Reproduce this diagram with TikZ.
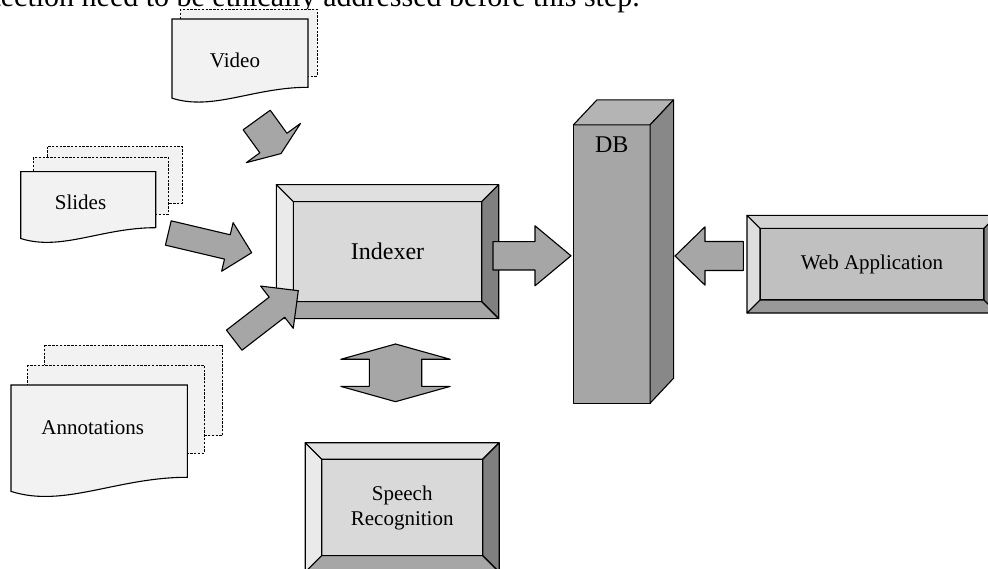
\documentclass[tikz,border=0pt]{standalone}
\usepackage{fontspec}
\setmainfont{Liberation Serif}
\usepackage{tikz}
\usetikzlibrary{calc}

\definecolor{paper}{HTML}{F2F2F2}
\definecolor{facegray}{HTML}{D9D9D9}
\definecolor{bevtop}{HTML}{E0E0E0}
\definecolor{bevleft}{HTML}{EAEAEA}
\definecolor{bevright}{HTML}{808080}
\definecolor{bevbottom}{HTML}{A6A6A6}
\definecolor{webface}{HTML}{C0C0C0}
\definecolor{webtop}{HTML}{D2D2D2}
\definecolor{webleft}{HTML}{DEDEDE}
\definecolor{webbottom}{HTML}{999999}
\definecolor{dbfront}{HTML}{A6A6A6}
\definecolor{dbtop}{HTML}{B4B4B4}
\definecolor{dbside}{HTML}{888888}
\definecolor{arrowgray}{HTML}{A6A6A6}

\newcommand{\labelfont}{\fontsize{21}{25}\selectfont}
\newcommand{\bigfont}{\fontsize{24}{28}\selectfont}

% page with a wavy lower edge: left, top, width, height at the right side
\newcommand{\wavypage}[4]{%
  \pgfmathsetmacro{\xr}{#1+#3}
  \pgfmathsetmacro{\yb}{#2-#4}
  \pgfmathsetmacro{\dz}{0.08*#3}
  \draw[page] (#1,#2) -- (\xr,#2) -- (\xr,\yb)
    .. controls (#1+0.6*#3,\yb) and (#1+0.3*#3,\yb-2.2*\dz) .. (#1,\yb-\dz) -- cycle;
}

% raised frame round a face node: node, bevel, top, left, right, bottom colour
\newcommand{\bevel}[6]{%
  \coordinate (#1-onw) at ($(#1.north west)+(-#2,#2)$);
  \coordinate (#1-one) at ($(#1.north east)+(#2,#2)$);
  \coordinate (#1-ose) at ($(#1.south east)+(#2,-#2)$);
  \coordinate (#1-osw) at ($(#1.south west)+(-#2,-#2)$);
  \draw[boxline, fill=#3] (#1.north west) -- (#1-onw) -- (#1-one) -- (#1.north east) -- cycle;
  \draw[boxline, fill=#4] (#1.north west) -- (#1-onw) -- (#1-osw) -- (#1.south west) -- cycle;
  \draw[boxline, fill=#5] (#1.north east) -- (#1-one) -- (#1-ose) -- (#1.south east) -- cycle;
  \draw[boxline, fill=#6] (#1.south west) -- (#1-osw) -- (#1-ose) -- (#1.south east) -- cycle;
}

% block arrow: tail, tip, half shaft, half head, head length
\newcommand{\fatarrow}[5]{%
  \coordinate (h) at ($(#2)!#5pt!(#1)$);
  \draw[fatbody] ($(#1)!#3pt!90:(#2)$) -- ($(h)!#3pt!90:(#2)$) -- ($(h)!#4pt!90:(#2)$)
    -- (#2) -- ($(h)!#4pt!-90:(#2)$) -- ($(h)!#3pt!-90:(#2)$) -- ($(#1)!#3pt!-90:(#2)$) -- cycle;
}

% block arrow with a head at both ends
\newcommand{\twinarrow}[5]{%
  \coordinate (ha) at ($(#1)!#5pt!(#2)$);
  \coordinate (hb) at ($(#2)!#5pt!(#1)$);
  \draw[fatbody] (#1) -- ($(ha)!#4pt!90:(#2)$) -- ($(ha)!#3pt!90:(#2)$)
    -- ($(hb)!#3pt!-90:(#1)$) -- ($(hb)!#4pt!-90:(#1)$) -- (#2)
    -- ($(hb)!#4pt!90:(#1)$) -- ($(hb)!#3pt!90:(#1)$)
    -- ($(ha)!#3pt!-90:(#2)$) -- ($(ha)!#4pt!-90:(#2)$) -- cycle;
}

\begin{document}
\begin{tikzpicture}[x=1pt,y=1pt,
boxline/.style={draw=black, line width=1.1pt, line join=round},
face/.style={boxline, rectangle, outer sep=0pt, inner sep=0pt, align=center, font=\labelfont},
page/.style={draw=black, line width=1.1pt, fill=paper},
backpage/.style={draw=black, line width=0.9pt, fill=paper, dash pattern=on 2.4pt off 1.4pt},
fatbody/.style={boxline, fill=arrowgray},
doctext/.style={font=\labelfont}]

\useasboundingbox (0,0) rectangle (988,569);
\clip (0,0) rectangle (988,569);

% line of running text above the figure
\node (caption) [anchor=base east, inner sep=0pt, font=\fontsize{30}{34}\selectfont] at (640,562.5)
  {tection need to be ethically addressed before this step.};

% source documents
\draw[backpage] (180,560) rectangle (317,493);
\wavypage{172}{550}{136}{68.3}
\node (video) [doctext] at (235,509) {Video};

\draw[backpage] (47.3,422.3) rectangle (182.3,365.7);
\draw[backpage] (33.3,411.7) rectangle (168.3,354.7);
\wavypage{20.7}{397.3}{135}{56}
\node (slides) [doctext] at (80.5,366.3) {Slides};

\draw[backpage] (44,224) rectangle (222.7,133.3);
\draw[backpage] (27.7,204) rectangle (204,115.7);
\wavypage{11}{184}{176.3}{92.3}
\node (annot) [doctext] at (92.8,141.7) {Annotations};

% processing blocks
\node (indexer) [face, fill=facegray, font=\bigfont, minimum width=188.4pt, minimum height=100pt] at (387.5,317.3) {Indexer};
\bevel{indexer}{17}{bevtop}{bevleft}{bevright}{bevbottom}

\node (speech) [face, fill=facegray, minimum width=161pt, minimum height=96.4pt] at (402.2,61.5) {Speech\\Recognition};
\bevel{speech}{16.5}{bevtop}{bevleft}{bevright}{bevbottom}

\node (webapp) [face, fill=webface, minimum width=224pt, minimum height=71.7pt] at (872,304.8) {Web Application};
\bevel{webapp}{13}{webtop}{webleft}{bevright}{webbottom}

% database column
\node (db) [boxline, fill=dbfront, outer sep=0pt, minimum width=76.7pt, minimum height=278.3pt,
  label={[font=\bigfont, inner sep=0pt, anchor=north, yshift=-11.7pt]north:DB}] at (611.7,304.9) {};
\draw[boxline, fill=dbtop] (db.north west) -- ++(23.5,25) -- ++(76.7,0) -- (db.north east) -- cycle;
\draw[boxline, fill=dbside] (db.north east) -- ++(23.5,25) -- ($(db.south east)+(23.5,25)$) -- (db.south east) -- cycle;

% block arrows
\coordinate (vidtail) at (256.7,449);
\coordinate (vidtip) at (281,415.4);
\fatarrow{vidtail}{vidtip}{16.7}{33.5}{13}

\coordinate (slitail) at (168.3,336);
\coordinate (slitip) at (251.7,316.3);
\fatarrow{slitail}{slitip}{12.5}{25}{25}

\coordinate (anntail) at (234.2,228.8);
\coordinate (anntip) at (298.3,278.3);
\fatarrow{anntail}{anntip}{12.7}{26.7}{27}

\coordinate (idxtail) at (493,313.2);
\coordinate (idxtip) at (571,313.2);
\fatarrow{idxtail}{idxtip}{14.2}{30}{36}

\coordinate (webtail) at (743.3,313);
\coordinate (webtip) at (675,313);
\fatarrow{webtail}{webtip}{14.5}{29.2}{30}

\coordinate (spktop) at (395.5,225);
\coordinate (spkbot) at (395.5,167.3);
\twinarrow{spktop}{spkbot}{26.2}{54.7}{15.3}

\end{tikzpicture}
\end{document}
